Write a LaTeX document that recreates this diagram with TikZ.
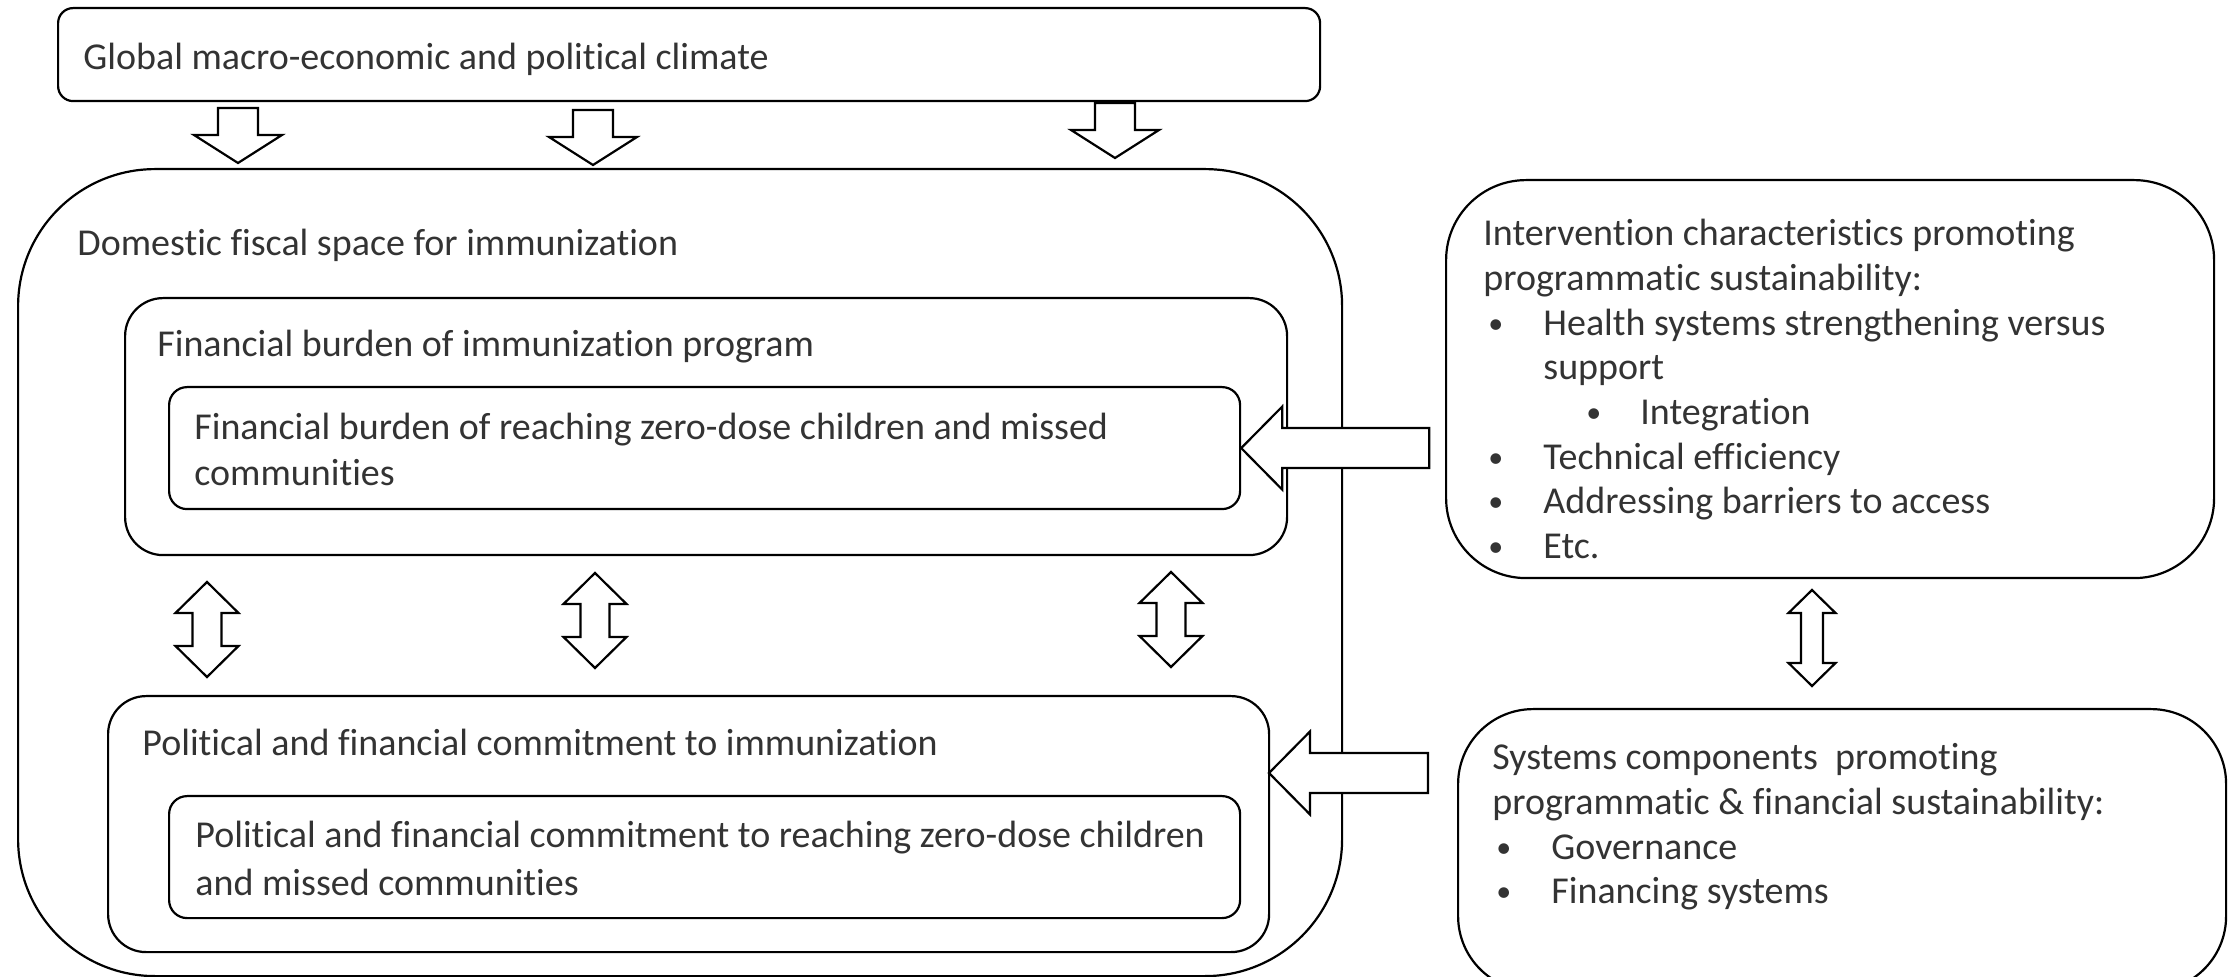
\documentclass[tikz,border=0pt]{standalone}
\usepackage{fontspec}
\setmainfont{Carlito}[Ligatures={NoCommon,NoRare}]
\definecolor{txtc}{HTML}{333333}
\newcommand\bul[1]{\makebox[#1][l]{\raisebox{1pt}{\fontsize{15}{15}\selectfont •}}}
\begin{document}
\begin{tikzpicture}[x=0.5pt,y=-0.5pt,
  box/.style={draw, line width=1.1pt, inner sep=0pt, anchor=north west},
  txt/.style={anchor=base west, inner sep=0pt, text=txtc, font=\fontsize{19}{23}\selectfont},
  blk/.style={draw, line width=1.1pt, fill=white, line join=miter},
  pics/downblk/.style={code={\draw[blk] (-20,0) -- (20,0) -- (20,27) -- (44,27) -- (0,55) -- (-44,27) -- (-20,27) -- cycle;}},
  pics/dblbig/.style={code={\draw[blk] (0,0) -- (31.5,31) -- (14.5,31) -- (14.5,64) -- (31.5,64) -- (0,95) -- (-31.5,64) -- (-14.5,64) -- (-14.5,31) -- (-31.5,31) -- cycle;}},
  pics/dblsmall/.style={code={\draw[blk] (0,0) -- (23.5,23) -- (11,23) -- (11,73) -- (23.5,73) -- (0,96) -- (-23.5,73) -- (-11,73) -- (-11,23) -- (-23.5,23) -- cycle;}},
  pics/leftblk/.style={code={\draw[blk] (0,0) -- (41,-41.5) -- (41,-20) -- (#1,-20) -- (#1,20) -- (41,20) -- (41,41.5) -- cycle;}}
]
\useasboundingbox (0,0) rectangle (2233,977);

% boxes
\node[box, rounded corners=7.5pt, minimum width=631pt, minimum height=46.5pt] (glob) at (57,7) {};
\node[box, rounded corners=68.5pt, minimum width=662pt, minimum height=403.5pt] (dom) at (17,168) {};
\node[box, rounded corners=19pt, minimum width=581pt, minimum height=128.5pt] (fin) at (124,297) {};
\node[box, rounded corners=9pt, minimum width=535.5pt, minimum height=61pt] (fininner) at (168,386) {};
\node[box, rounded corners=19pt, minimum width=580.5pt, minimum height=128pt] (pol) at (107,695) {};
\node[box, rounded corners=9pt, minimum width=535.5pt, minimum height=61pt] (polinner) at (168,795) {};
\node[box, rounded corners=40pt, minimum width=384pt, minimum height=199pt] (interv) at (1445,179) {};
\node[box, rounded corners=37.5pt, minimum width=384pt, minimum height=141pt] (sys) at (1457,708) {};

% block arrows
\pic at (238,108) {downblk};
\pic at (593,110) {downblk};
\pic at (1115,103) {downblk};
\pic at (207,582) {dblbig};
\pic at (595,573) {dblbig};
\pic at (1171,572) {dblbig};
\pic at (1812,590) {dblsmall};
\pic at (fininner.east) {leftblk=188};
\pic at (1269,773) {leftblk=159};

% texts
\node[txt] (tglob) at (83,70) {Global macro-economic and political climate};
\node[txt] (tdom) at (77,256) {Domestic fiscal space for immunization};
\node[txt] (tfin) at (157,357) {Financial burden of immunization program};
\node[txt] (tfi1) at (194,440) {Financial burden of reaching zero-dose children and missed};
\node[txt] (tfi2) at (194,486) {communities};
\node[txt] (tpol) at (142,756) {Political and financial commitment to immunization};
\node[txt] (tpi1) at (195,848) {Political and financial commitment to reaching zero-dose children};
\node[txt] (tpi2) at (195,895) {and missed communities};

\node[txt] (ti1) at (1483,246) {Intervention characteristics promoting};
\node[txt] (ti2) at (1483,291) {programmatic sustainability:};
\node[txt] (ti3) at (1488,336) {\bul{27.5pt}Health systems strengthening versus};
\node[txt] (ti4) at (1543,380) {support};
\node[txt] (ti5) at (1586,425) {\bul{27pt}Integration};
\node[txt] (ti6) at (1488,470) {\bul{27.5pt}Technical efficiency};
\node[txt] (ti7) at (1488,514) {\bul{27.5pt}Addressing barriers to access};
\node[txt] (ti8) at (1488,559) {\bul{27.5pt}Etc.};

\node[txt] (ts1) at (1492,770) {Systems components\ \ promoting};
\node[txt] (ts2) at (1492,814) {programmatic \& financial sustainability:};
\node[txt] (ts3) at (1496,859) {\bul{27.5pt}Governance};
\node[txt] (ts4) at (1496,903) {\bul{27.5pt}Financing systems};
\end{tikzpicture}
\end{document}
